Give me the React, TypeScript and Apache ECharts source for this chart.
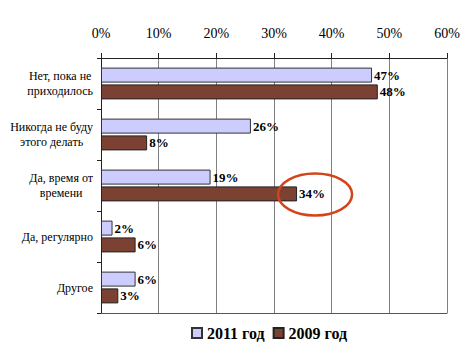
import React, { useEffect, useRef } from "react";
import * as echarts from "echarts";

const categories = [
  "Нет, пока не\nприходилось",
  "Никогда не буду\nэтого делать",
  "Да, время от\nвремени",
  "Да, регулярно",
  "Другое",
];
const series2011 = [47, 26, 19, 2, 6];
const series2009 = [48, 8, 34, 6, 3];
const seriesNames = ["2011 год", "2009 год"];
const xTicks = { min: 0, max: 60, interval: 10 };

const SERIF = "Times New Roman, Liberation Serif, serif";

export default function App() {
  const ref = useRef<HTMLDivElement>(null);
  useEffect(() => {
    if (!ref.current) return;
    const chart = echarts.init(ref.current, null, { renderer: "svg" });
    const labelStyle = {
      show: true,
      position: "right",
      distance: 2,
      formatter: "{c}%",
      color: "#000",
      fontFamily: SERIF,
      fontWeight: "bold",
      fontSize: 13,
    };
    chart.setOption({
      animation: false,
      backgroundColor: "#fff",
      textStyle: { fontFamily: SERIF },
      grid: { left: 101, right: 22, top: 58, bottom: 45 },
      legend: {
        bottom: 12,
        left: 186,
        icon: "rect",
        itemWidth: 10,
        itemHeight: 10,
        itemGap: 8,
        textStyle: { fontFamily: SERIF, fontWeight: "bold", fontSize: 16, color: "#000" },
        data: seriesNames,
      },
      xAxis: [
        {
          type: "value",
          position: "top",
          min: xTicks.min,
          max: xTicks.max,
          interval: xTicks.interval,
          axisLine: { show: true, lineStyle: { color: "#222", width: 1 } },
          axisTick: { show: true, length: 5, lineStyle: { color: "#222" } },
          axisLabel: {
            formatter: "{value}%",
            margin: 18,
            color: "#000",
            fontFamily: SERIF,
            fontSize: 14,
          },
          splitLine: { show: true, lineStyle: { color: "#808080", width: 1 } },
        },
        {
          type: "value",
          position: "bottom",
          min: xTicks.min,
          max: xTicks.max,
          interval: xTicks.interval,
          axisLine: { show: true, lineStyle: { color: "#555", width: 1 } },
          axisTick: { show: false },
          axisLabel: { show: false },
          splitLine: { show: false },
        },
      ],
      yAxis: {
        type: "category",
        inverse: true,
        data: categories,
        axisLine: { show: true, lineStyle: { color: "#222", width: 1 } },
        axisTick: { show: true, length: 4, lineStyle: { color: "#222" } },
        axisLabel: {
          margin: 8,
          align: "right",
          color: "#000",
          fontFamily: SERIF,
          fontSize: 12,
          lineHeight: 15,
          formatter: (v: string) =>
            v
              .split("\n")
              .map((l) => `{c|${l}}`)
              .join("\n"),
          rich: {
            c: {
              align: "center",
              fontFamily: SERIF,
              fontSize: 12,
              lineHeight: 15,
              color: "#000",
            },
          },
        },
      },
      series: [
        {
          name: seriesNames[0],
          type: "bar",
          data: series2011,
          barWidth: 15,
          barGap: "12%",
          itemStyle: { color: "#CCCCFF", borderColor: "#333", borderWidth: 1 },
          label: labelStyle,
        },
        {
          name: seriesNames[1],
          type: "bar",
          data: series2009,
          barWidth: 15,
          barGap: "12%",
          itemStyle: { color: "#7B4133", borderColor: "#222", borderWidth: 1 },
          label: labelStyle,
        },
      ],
    });
    // Annotation ellipse around the 2009 value of "Да, время от времени"
    const p = chart.convertToPixel({ xAxisIndex: 0, yAxisIndex: 0 }, [series2009[2], 2]) as number[];
    if (p) {
      chart.setOption({
        graphic: [
          {
            type: "ellipse",
            shape: { cx: p[0] + 18, cy: p[1] + 9, rx: 37, ry: 21 },
            style: { fill: "none", stroke: "#D4441A", lineWidth: 2.5 },
            z: 100,
          },
        ],
      });
    }
    return () => chart.dispose();
  }, []);
  return (
    <div
      ref={ref}
      style={{ position: "fixed", left: 0, top: 0, width: 469, height: 358 }}
    />
  );
}
